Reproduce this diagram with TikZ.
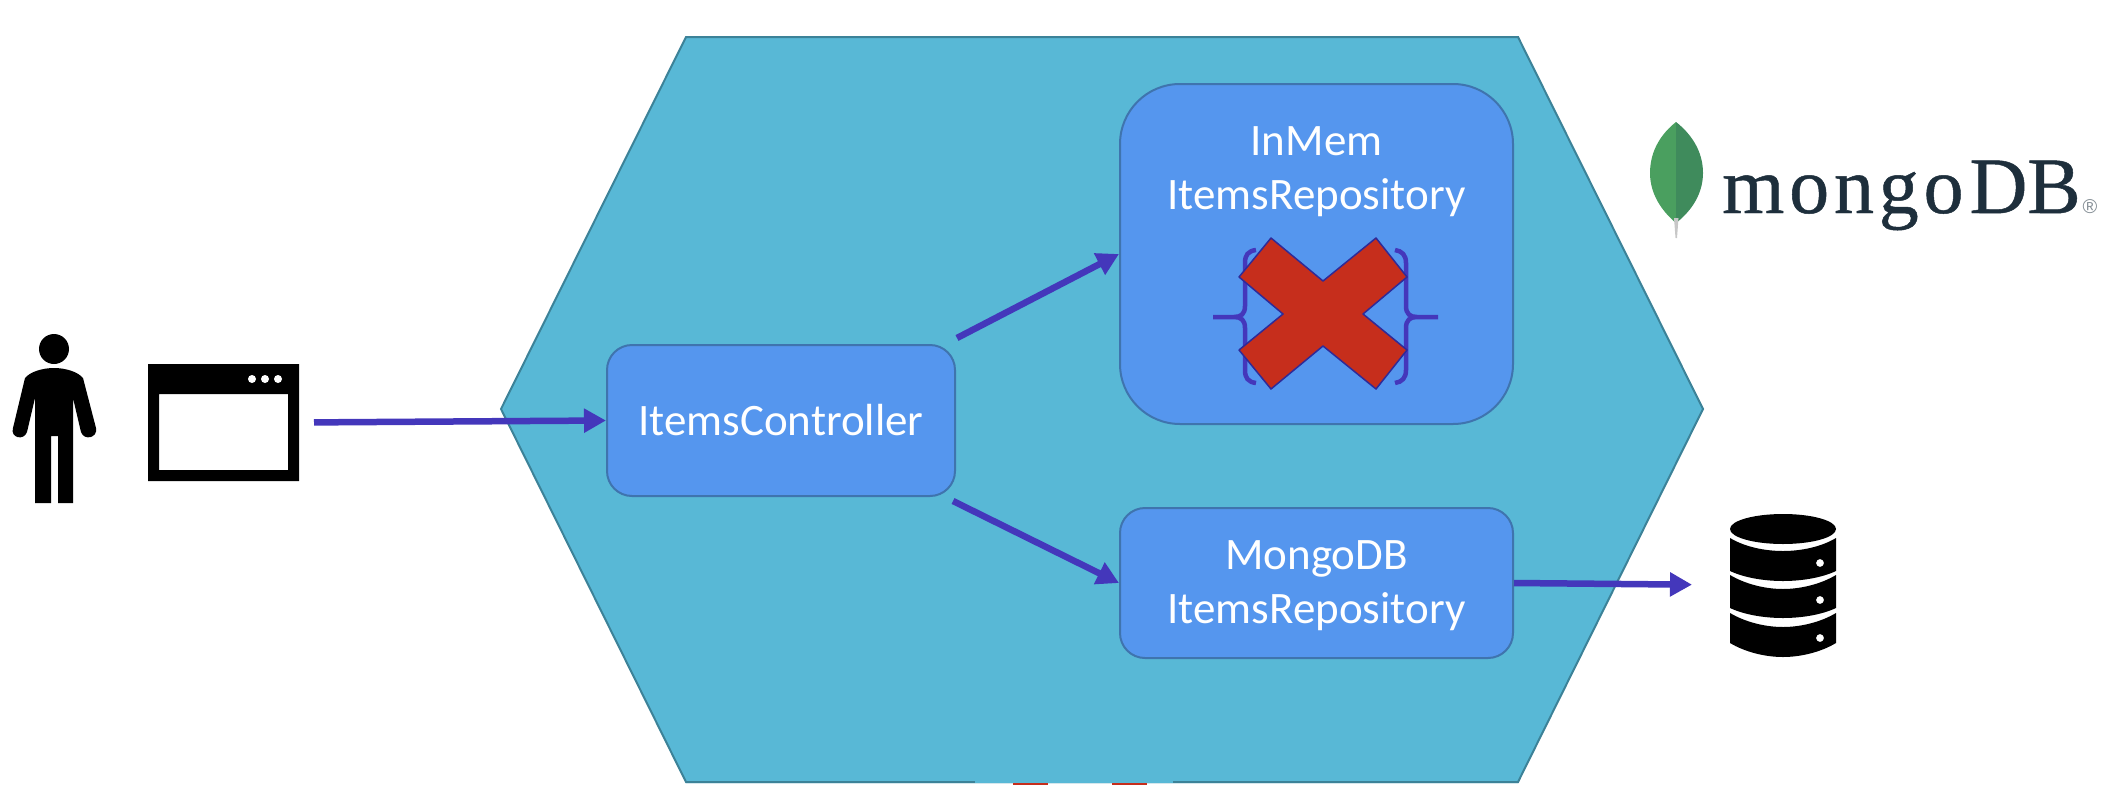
\documentclass[tikz,border=0pt]{standalone}
\usepackage{fontspec}
\setmainfont{Carlito}
\newfontfamily\logoA[LetterSpace=6,FakeBold=0.6]{Liberation Serif}
\newfontfamily\logoB[FakeBold=0.6]{Liberation Serif}
\newfontfamily\logoC{Liberation Sans}
\usetikzlibrary{arrows.meta}
\definecolor{hexfill}{HTML}{58B8D6}
\definecolor{hexedge}{HTML}{3C8298}
\definecolor{boxfill}{HTML}{5596EE}
\definecolor{boxedge}{HTML}{3F74AE}
\definecolor{flow}{HTML}{4437BB}
\definecolor{xred}{HTML}{C62E1C}
\definecolor{xedge}{HTML}{2F2A98}
\definecolor{leafA}{HTML}{4A9F5F}
\definecolor{leafB}{HTML}{3F8B5C}
\definecolor{logoink}{HTML}{1E2F3C}
\tikzset{
  svc/.style={draw=boxedge,line width=2pt,fill=boxfill,text=white,align=center,font=\fontsize{45}{54}\selectfont,inner sep=0pt},
  flowline/.style={draw=flow,line width=6.5pt,-{Triangle[length=22pt,width=23pt,fill=flow]}},
  icon/.style={minimum width=#1,inner sep=0pt,outer sep=0pt},
  brace/.style={draw=flow,line width=4.5pt}
}
\begin{document}
\begin{tikzpicture}[x=1pt,y=-1pt]
\useasboundingbox (0,0) rectangle (2123,806);
% hexagon
\fill[hexfill] (686,37) -- (1518,37) -- (1703,409) -- (1518,783) -- (686,783) -- (501,409) -- cycle;
\draw[hexedge,line width=2pt] (686,37) -- (1518,37) -- (1703,409) -- (1518,782) -- (686,782) -- (501,409) -- cycle;
\fill[hexfill] (975,778) rectangle (1173,783);
% fragments below the hexagon
\fill[xred] (1013,783) rectangle (1048,785);
\fill[xred] (1112,783) rectangle (1147,785);
% person
\fill (54,349) circle (15);
\fill (54,368) .. controls (66,368) and (78,372) .. (83,378)
  -- (96,428) .. controls (98,438) and (84,441) .. (81,432)
  -- (73,398) -- (73,503) -- (58,503) -- (58,436) -- (51,436) -- (51,503) -- (35,503) -- (35,398)
  -- (27,432) .. controls (24,441) and (10,438) .. (13,428)
  -- (25,378) .. controls (30,372) and (42,368) .. (54,368) -- cycle;
% browser window
\node[icon=151pt,minimum height=117pt] (browser) at (223.5,422.5) {};
\fill[even odd rule] (148,364) rectangle (299,481) (159,394) rectangle (288,470);
\fill[white] (252,379) circle (4) (265,379) circle (4) (278,379) circle (4);
% service boxes
\node[svc,minimum width=348pt,minimum height=151pt,rounded corners=25pt] (ctrl) at (781,420.5) {ItemsController};
\node[svc,minimum width=393pt,minimum height=340pt,rounded corners=60pt] (inmem) at (1316.5,254) {};
\node[svc,minimum width=393pt,minimum height=150pt,rounded corners=25pt] (mongo) at (1316.5,583) {};
\node[text=white,align=center,font=\fontsize{45}{54}\selectfont,inner sep=0pt] (mongolabel) at (1316.5,585.5) {MongoDB\\ItemsRepository};
\node[text=white,align=center,font=\fontsize{45}{54}\selectfont,inner sep=0pt] (inmemlabel) at (1316.5,171.5) {InMem\\ItemsRepository};
% braces
\draw[brace] (1256,250) .. controls (1248,251) and (1245,255) .. (1245,263) -- (1245,306)
  .. controls (1245,314) and (1241,317) .. (1234,317) -- (1213,317)
  (1234,317) .. controls (1241,317) and (1245,320) .. (1245,328) -- (1245,370)
  .. controls (1245,378) and (1248,382) .. (1256,383);
\draw[brace] (1395,250) .. controls (1402,251) and (1406,255) .. (1406,263) -- (1406,306)
  .. controls (1406,314) and (1410,317) .. (1417,317) -- (1438,317)
  (1417,317) .. controls (1410,317) and (1406,320) .. (1406,328) -- (1406,370)
  .. controls (1406,378) and (1402,382) .. (1395,383);
% red cross
\draw[fill=xred,draw=xedge,line width=1.5pt,line join=round]
  (1271,238) -- (1323,281) -- (1376,238) -- (1407,277) -- (1363,314) -- (1407,350) -- (1376,389)
  -- (1323,346) -- (1271,389) -- (1239,350) -- (1283,314) -- (1239,277) -- cycle;
% mongodb logo
\fill[leafA] (1676,122) .. controls (1662,133) and (1650,150) .. (1650,173) .. controls (1650,196) and (1664,213) .. (1676,223) -- cycle;
\fill[leafB] (1676,122) .. controls (1690,133) and (1703,150) .. (1703,173) .. controls (1703,196) and (1689,213) .. (1676,223) -- cycle;
\fill[black!22] (1674,218) -- (1678.5,218) -- (1677,238) -- (1675.5,238) -- cycle;
\node[anchor=base west,inner sep=0pt,text=logoink,font=\fontsize{80}{80}\selectfont] (logo) at (1722,213) {\logoA mongo\kern6pt\logoB DB};
\node[inner sep=0pt,text=logoink!55,font=\logoC\fontsize{20}{20}\selectfont] (reg) at (2090,207) {®};
% database icon
\node[icon=106pt,minimum height=144pt] (db) at (1783,585) {};
\fill (1783,529) ellipse [x radius=53,y radius=15];
\fill[even odd rule] (1730,538) .. controls (1745,547) and (1765,551) .. (1783,551) .. controls (1801,551) and (1821,547) .. (1836,538)
  -- (1836,571) .. controls (1821,578) and (1801,581) .. (1783,581) .. controls (1765,581) and (1745,578) .. (1730,571) -- cycle
  (1820,563) circle (4);
\fill[even odd rule] (1730,575) .. controls (1745,584) and (1765,589) .. (1783,589) .. controls (1801,589) and (1821,584) .. (1836,575)
  -- (1836,608) .. controls (1821,615) and (1801,618) .. (1783,618) .. controls (1765,618) and (1745,615) .. (1730,608) -- cycle
  (1820,600) circle (4);
\fill[even odd rule] (1730,613) .. controls (1745,622) and (1765,627) .. (1783,627) .. controls (1801,627) and (1821,622) .. (1836,613)
  -- (1836,643) .. controls (1821,652) and (1801,657) .. (1783,657) .. controls (1765,657) and (1745,652) .. (1730,643) -- cycle
  (1820,638) circle (4);
% connectors
\coordinate (ctrlup) at (957,338);
\coordinate (ctrldown) at (953,501);
\draw[flowline,shorten <=15pt] (browser.east) -- (ctrl.west);
\draw[flowline] (ctrlup) -- (inmem.west);
\draw[flowline] (ctrldown) -- (mongo.west);
\draw[flowline,shorten >=38pt] (mongo.east) -- (db.west);
\end{tikzpicture}
\end{document}
